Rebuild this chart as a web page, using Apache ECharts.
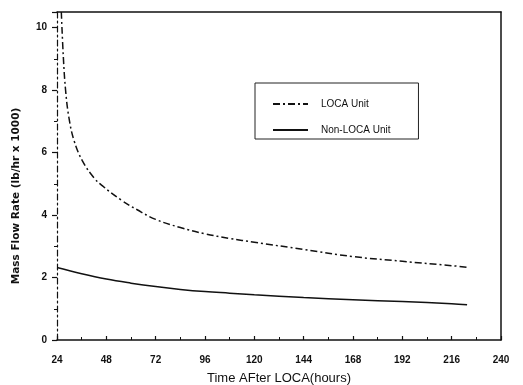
<!DOCTYPE html>
<html>
<head>
<meta charset="utf-8">
<script src="https://cdn.jsdelivr.net/npm/echarts@6/dist/echarts.min.js"></script>
<style>
  html, body { margin: 0; background: #fff; }
  #chart { width: 523px; height: 385px; }
</style>
</head>
<body>
<div id="chart"></div>
<script>
// values (flow in lb/hr x 1000)
var locaHours = [26.1, 27.1, 28.2, 29.8, 32.3, 36.3, 42, 46, 55, 63, 72, 84, 96, 108, 120, 144, 168, 192, 216, 223.5];
var locaFlow = [10.5, 9.04, 7.98, 7.12, 6.38, 5.74, 5.19, 4.94, 4.49, 4.17, 3.86, 3.6, 3.4, 3.25, 3.13, 2.9, 2.67, 2.52, 2.38, 2.33];

var nonLocaHours = [24, 36, 48, 60, 72, 84, 96, 108, 120, 144, 168, 192, 216, 223.5];
var nonLocaFlow = [2.32, 2.12, 1.95, 1.82, 1.71, 1.62, 1.55, 1.5, 1.45, 1.36, 1.29, 1.23, 1.16, 1.13];

var seriesNames = ['LOCA Unit', 'Non-LOCA Unit'];
var xTitle = 'Time AFter LOCA(hours)';
var yTitle = 'Mass Flow Rate (lb/hr x 1000)';

function pairs(xs, ys) {
  var out = [];
  for (var i = 0; i < xs.length; i++) {
    out.push([xs[i], ys[i]]);
  }
  return out;
}

var font = 'Liberation Sans, Arial, sans-serif';
var chart = echarts.init(document.getElementById('chart'));

chart.setOption({
  animation: false,
  grid: { left: 57, right: 22, top: 12, bottom: 45, outerBoundsMode: 'none' },
  legend: {
    data: seriesNames,
    orient: 'vertical',
    left: 255,
    top: 83,
    itemWidth: 35,
    itemHeight: 10,
    itemGap: 16,
    padding: [16, 28, 4, 17],
    borderColor: '#222',
    borderWidth: 1,
    itemStyle: { opacity: 0 },
    textStyle: { fontFamily: font, fontSize: 10, color: '#111', padding: [0, 0, 0, 8] }
  },
  xAxis: [{
    type: 'value',
    min: 24,
    max: 240,
    interval: 24,
    name: xTitle,
    nameLocation: 'middle',
    nameGap: 32,
    nameTextStyle: { fontFamily: font, fontSize: 13, color: '#111' },
    axisLine: { lineStyle: { color: '#111', width: 1.5 } },
    axisTick: { inside: true, length: 4, lineStyle: { color: '#111', width: 1.2 } },
    minorTick: { show: true, splitNumber: 2, length: 3, lineStyle: { color: '#111' } },
    axisLabel: { fontFamily: font, fontSize: 10, fontWeight: 'bold', color: '#111', margin: 15 },
    splitLine: { show: false }
  }, {
    type: 'value',
    position: 'top',
    min: 24,
    max: 240,
    interval: 24,
    axisLine: { show: true, onZero: false, lineStyle: { color: '#111', width: 1.5 } },
    axisTick: { show: false },
    axisLabel: { show: false },
    splitLine: { show: false }
  }],
  yAxis: [{
    type: 'value',
    min: 0,
    max: 10.5,
    interval: 2,
    axisLine: { show: true, onZero: false, lineStyle: { color: '#111', width: 1.2, type: [6, 3, 2, 3] } },
    axisTick: { length: 5, lineStyle: { color: '#111', width: 1.2 } },
    minorTick: { show: true, splitNumber: 2, length: 3, lineStyle: { color: '#111' } },
    axisLabel: { fontFamily: font, fontSize: 10, fontWeight: 'bold', color: '#111', margin: 10, showMaxLabel: false },
    splitLine: { show: false }
  }, {
    type: 'value',
    position: 'right',
    min: 0,
    max: 10.5,
    interval: 2,
    axisLine: { show: true, onZero: false, lineStyle: { color: '#111', width: 1.5 } },
    axisTick: { show: false },
    axisLabel: { show: false },
    splitLine: { show: false }
  }],
  graphic: [{
    type: 'text',
    x: 16,
    y: 196,
    rotation: Math.PI / 2,
    style: {
      text: yTitle,
      fontFamily: 'DejaVu Sans, sans-serif',
      fontSize: 10.5,
      fontWeight: 'bold',
      fill: '#111',
      align: 'center',
      verticalAlign: 'middle'
    }
  }],
  series: [{
    name: seriesNames[0],
    type: 'line',
    data: pairs(locaHours, locaFlow),
    smooth: 0.4,
    symbol: 'none',
    itemStyle: { color: '#111' },
    lineStyle: { color: '#111', width: 1.5, type: [7, 3, 2, 3] }
  }, {
    name: seriesNames[1],
    type: 'line',
    data: pairs(nonLocaHours, nonLocaFlow),
    smooth: 0.4,
    symbol: 'none',
    itemStyle: { color: '#111' },
    lineStyle: { color: '#111', width: 1.5 }
  }]
});
</script>
</body>
</html>
